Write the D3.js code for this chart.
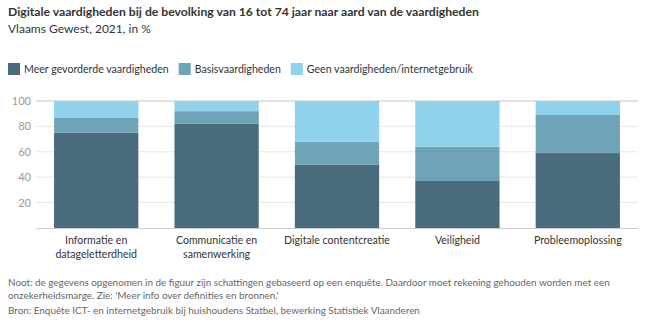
<!DOCTYPE html>
<html><head><meta charset="utf-8">
<script src="https://cdn.jsdelivr.net/npm/d3@7"></script>
<style>
body{margin:0;background:#fff;font-family:Lato,"Open Sans",sans-serif;}
</style></head>
<body><svg id="c" width="650" height="322"></svg>
<script>
const categories = [["Informatie en","datageletterdheid"],["Communicatie en","samenwerking"],["Digitale contentcreatie"],["Veiligheid"],["Probleemoplossing"]];
const seriesNames = ["Meer gevorderde vaardigheden","Basisvaardigheden","Geen vaardigheden/internetgebruik"];
const meerGevorderd = [75, 82, 50, 37, 59];
const basis = [12, 10, 18, 27, 30];
const geen = [13, 8, 32, 36, 11];
const yTicks = [20, 40, 60, 80, 100];
const colors = ["#4a6b7c", "#6ea3b8", "#8ed2ec"];

const svg = d3.select("#c");
const font = "Lato, 'Open Sans', sans-serif";
svg.append("text").attr("x",8).attr("y",16).attr("font-family",font).attr("font-weight","bold").attr("font-size",12.2).attr("fill","#333").text("Digitale vaardigheden bij de bevolking van 16 tot 74 jaar naar aard van de vaardigheden");
svg.append("text").attr("x",8).attr("y",33).attr("font-family",font).attr("font-size",12).attr("fill","#333").text("Vlaams Gewest, 2021, in %");

// legend
let lx = 8;
seriesNames.forEach((n,i)=>{
  svg.append("rect").attr("x",lx).attr("y",63).attr("width",12).attr("height",12).attr("fill",colors[i]);
  const t = svg.append("text").attr("x",lx+16).attr("y",73).attr("font-family",font).attr("font-size",10.6).attr("fill","#333").text(n);
  lx += 16 + t.node().getComputedTextLength() + 10;
});

const x = d3.scaleBand().domain(d3.range(categories.length)).range([36,638]).paddingInner(0.3).paddingOuter(0.15);
const y = d3.scaleLinear().domain([0,100]).range([228,101]);

const g = svg.append("g");
g.selectAll("line.grid").data(yTicks).join("line").attr("class","grid")
  .attr("x1",36).attr("x2",638).attr("y1",d=>y(d)).attr("y2",d=>y(d))
  .attr("stroke",d=>d===100?"#e2e2e2":"#e6e6e6").attr("stroke-width",d=>d===100?2:1);
g.selectAll("text.yt").data(yTicks).join("text").attr("class","yt")
  .attr("x",31).attr("y",d=>y(d)+4).attr("text-anchor","end").attr("font-family",font).attr("font-size",11).attr("fill","#999").text(d=>d);

const data = categories.map((c,i)=>({i, v:[meerGevorderd[i], basis[i], geen[i]]}));
const stack = d3.stack().keys([0,1,2]).value((d,k)=>d.v[k]);
const stacked = stack(data);
stacked.forEach((layer,k)=>{
  g.selectAll("rect.s"+k).data(layer).join("rect").attr("class","s"+k)
    .attr("x",d=>x(d.data.i)).attr("width",x.bandwidth())
    .attr("y",d=>y(Math.min(100,d[1]))).attr("height",d=>y(d[0])-y(Math.min(100,d[1])))
    .attr("fill",colors[k]);
});

g.append("line").attr("x1",36).attr("x2",638).attr("y1",228.5).attr("y2",228.5).attr("stroke","#ccc").attr("stroke-width",1);

categories.forEach((lines,i)=>{
  const t = g.append("text").attr("text-anchor","middle").attr("font-family",font).attr("font-size",10.6).attr("fill","#333");
  lines.forEach((l,j)=>t.append("tspan").attr("x",x(i)+x.bandwidth()/2).attr("y",244+j*13.5).text(l));
});

const notes = [
  {t:"Noot: de gegevens opgenomen in de figuur zijn schattingen gebaseerd op een enquête. Daardoor moet rekening gehouden worden met een", y:286},
  {t:"onzekerheidsmarge. Zie: 'Meer info over definities en bronnen.'", y:299},
  {t:"Bron: Enquête ICT- en internetgebruik bij huishoudens Statbel, bewerking Statistiek Vlaanderen", y:314}
];
notes.forEach(n=>svg.append("text").attr("x",8).attr("y",n.y).attr("font-family",font).attr("font-size",9.9).attr("fill","#666").text(n.t));
</script></body></html>
